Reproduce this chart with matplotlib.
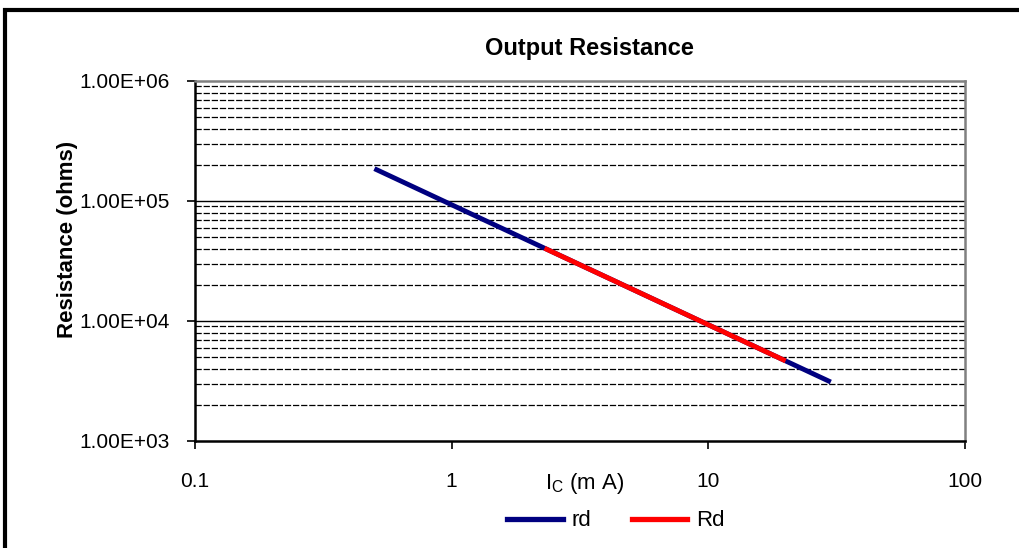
import matplotlib.pyplot as plt
from matplotlib.patches import Rectangle
from matplotlib.lines import Line2D
from matplotlib.ticker import NullFormatter, FixedLocator

plt.rcParams['font.family'] = ['Liberation Sans', 'DejaVu Sans']

# data
ic_rd = [0.5, 1, 2, 5, 10, 20, 30]
rd = [186000, 93000, 46500, 18600, 9300, 4650, 3100]
ic_Rd = [2.3, 5, 10, 20]
Rd = [40400, 18600, 9300, 4650]
ytick_vals = [1e3, 1e4, 1e5, 1e6]
ytick_labels = ["1.00E+03", "1.00E+04", "1.00E+05", "1.00E+06"]
xtick_vals = [0.1, 1, 10, 100]
xtick_labels = ["0.1", "1", "10", "100"]

fig = plt.figure(figsize=(10.19, 5.48), dpi=100)
ax = fig.add_axes([195/1019, 1-441/548, (965-195)/1019, (441-81)/548])

ax.set_xscale('log')
ax.set_yscale('log')
ax.set_xlim(0.1, 100)
ax.set_ylim(1e3, 1e6)

# grid: solid at decades, dashed at minor
for dec in [1e3, 1e4, 1e5]:
    for m in range(2, 10):
        ax.axhline(dec*m, color='black', lw=0.9, ls=(0, (5, 1.5)), zorder=1)
for v in [1e4, 1e5]:
    ax.axhline(v, color='black', lw=1.0, zorder=1)

ax.plot(ic_rd, rd, color='#000080', lw=3.5, solid_capstyle='butt', zorder=3)
ax.plot(ic_Rd, Rd, color='#ff0000', lw=3.5, solid_capstyle='butt', zorder=4)

ax.yaxis.set_major_locator(FixedLocator(ytick_vals))
ax.set_yticklabels(ytick_labels)
ax.yaxis.set_minor_formatter(NullFormatter())
ax.xaxis.set_major_locator(FixedLocator(xtick_vals))
ax.set_xticklabels(xtick_labels)
ax.xaxis.set_minor_formatter(NullFormatter())
ax.tick_params(which='minor', length=0)
ax.tick_params(which='major', direction='out', length=6, width=1.2, color='black', labelsize=15)
ax.tick_params(axis='y', pad=12)
ax.tick_params(axis='x', pad=16)

for s in ['left', 'bottom']:
    ax.spines[s].set_color('black')
    ax.spines[s].set_linewidth(1.8)
for s in ['top', 'right']:
    ax.spines[s].set_color('#808080')
    ax.spines[s].set_linewidth(1.8)

fig.text(589/1019, 1-48/548, "Output Resistance", fontsize=17, fontweight='bold',
         ha='center', va='center')
fig.text(68/1019, 1-239/548, "Resistance (ohms)", fontsize=16, fontweight='bold',
         rotation=90, ha='center', va='center')
fig.text(585/1019, 1-484/548, r"I$_\mathregular{C}$ (m A)", fontsize=16, ha='center', va='center')

handles = [Line2D([], [], color='#000080', lw=3.8), Line2D([], [], color='#ff0000', lw=3.8)]
fig.legend(handles, ['rd', 'Rd'], loc='center', bbox_to_anchor=(616/1019, 1-521/548),
           ncol=2, frameon=False, fontsize=16, handlelength=2.5, columnspacing=1.8,
           handletextpad=0.4)

# outer chart border
fig.add_artist(Rectangle((5/1019, -0.2), 1.2, 0.2+1-10/548, transform=fig.transFigure,
                         fill=False, edgecolor='black', lw=3))

fig.savefig('out.png', dpi=100)
